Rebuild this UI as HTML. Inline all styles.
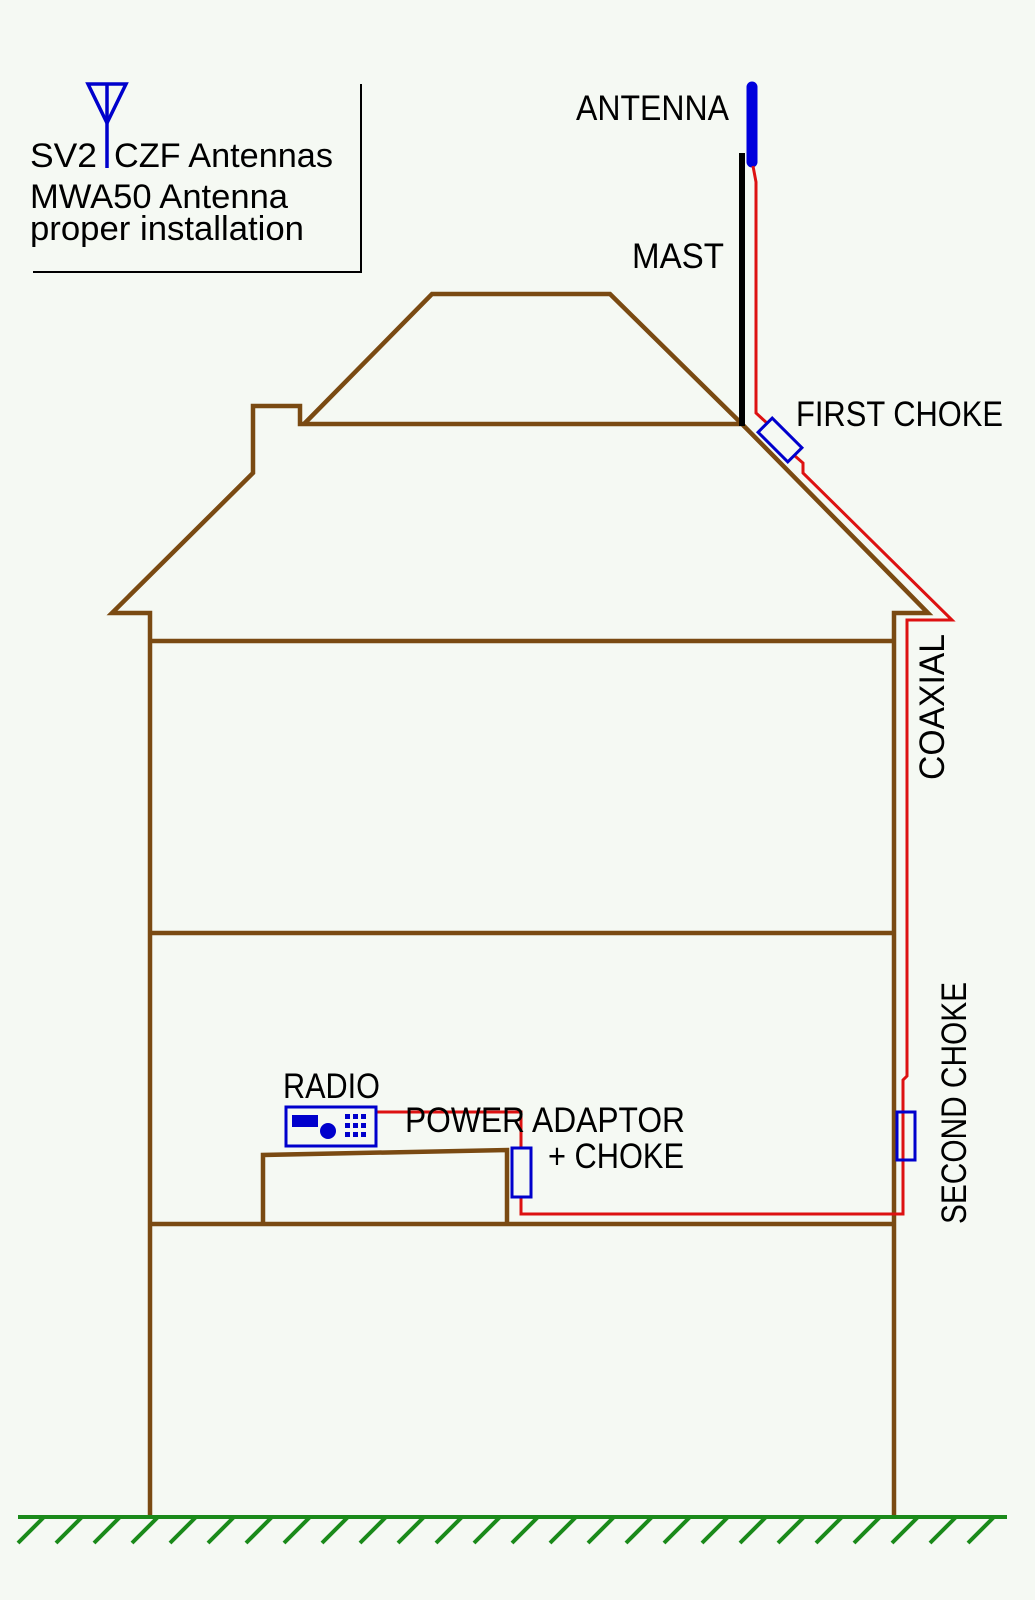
<!DOCTYPE html>
<html><head><meta charset="utf-8"><style>
html,body{margin:0;padding:0;background:#f5f9f3;}
svg{display:block}
text{font-family:"Liberation Sans",sans-serif;fill:#000;}
</style></head><body>
<svg width="1035" height="1600" viewBox="0 0 1035 1600" xmlns="http://www.w3.org/2000/svg">
<rect width="1035" height="1600" fill="#f5f9f3"/>
<!-- title box -->
<polyline points="33,272 361,272 361,84" fill="none" stroke="#000" stroke-width="2"/>
<polygon points="88,84 126,84 107,123" fill="none" stroke="#0000cc" stroke-width="3.5"/>
<line x1="107" y1="84" x2="107" y2="168" stroke="#0000cc" stroke-width="3.5"/>
<g font-size="34">
<text x="30" y="167" textLength="67" lengthAdjust="spacingAndGlyphs">SV2</text>
<text x="114" y="167" textLength="219" lengthAdjust="spacingAndGlyphs">CZF Antennas</text>
<text x="30" y="208" textLength="258" lengthAdjust="spacingAndGlyphs">MWA50 Antenna</text>
<text x="30" y="240" textLength="274" lengthAdjust="spacingAndGlyphs">proper installation</text>
</g>
<!-- house -->
<g fill="none" stroke="#7a4a12" stroke-width="4.5" stroke-linejoin="miter">
<polyline points="150,1517 150,613 112,613 253,473 253,406 300,406 300,424 742,424 928,613 894,613 894,1517"/>
<polyline points="304,424 432,294 610,294 742,424"/>
<line x1="150" y1="641" x2="894" y2="641"/>
<line x1="150" y1="933" x2="894" y2="933"/>
<line x1="150" y1="1224" x2="894" y2="1224"/>
<polyline points="263,1224 263,1155 507,1150 507,1224"/>
</g>
<!-- ground -->
<g stroke="#1a8a1a" stroke-width="4">
<line x1="18" y1="1517" x2="1007" y2="1517"/>
<path d="M44,1517 L18,1543 M82,1517 L56,1543 M120,1517 L94,1543 M158,1517 L132,1543 M196,1517 L170,1543 M234,1517 L208,1543 M272,1517 L246,1543 M310,1517 L284,1543 M348,1517 L322,1543 M386,1517 L360,1543 M424,1517 L398,1543 M462,1517 L436,1543 M500,1517 L474,1543 M538,1517 L512,1543 M576,1517 L550,1543 M614,1517 L588,1543 M652,1517 L626,1543 M690,1517 L664,1543 M728,1517 L702,1543 M766,1517 L740,1543 M804,1517 L778,1543 M842,1517 L816,1543 M880,1517 L854,1543 M918,1517 L892,1543 M956,1517 L930,1543 M994,1517 L968,1543"/>
</g>
<!-- mast & antenna -->
<line x1="742" y1="153" x2="742" y2="426" stroke="#000" stroke-width="6"/>
<line x1="752" y1="87" x2="752" y2="162" stroke="#0000dd" stroke-width="11" stroke-linecap="round"/>
<!-- coax -->
<g fill="none" stroke="#dd1111" stroke-width="3">
<polyline points="753,166 756,182 756,413 768,424"/>
<polyline points="795,456 803,463 803,473 952,620 907,620 907,1076 903,1080 903,1214 521,1214 521,1197"/>
<polyline points="376,1112 521,1112 521,1148"/>
</g>
<!-- chokes -->
<g fill="none" stroke="#0000cc" stroke-width="3">
<rect x="-21" y="-10" width="42" height="20" transform="translate(780,440) rotate(45)"/>
<rect x="897" y="1112" width="18" height="48"/>
<rect x="512" y="1148" width="19" height="49"/>
</g>
<!-- radio -->
<rect x="286" y="1107" width="90" height="39" fill="none" stroke="#0000cc" stroke-width="3"/>
<rect x="292" y="1115" width="26" height="12" fill="#0000cc"/>
<circle cx="328" cy="1131" r="8" fill="#0000cc"/>
<g fill="#0000cc">
<rect x="345" y="1114" width="5" height="5"/><rect x="353" y="1114" width="5" height="5"/><rect x="361" y="1114" width="5" height="5"/>
<rect x="345" y="1123" width="5" height="5"/><rect x="353" y="1123" width="5" height="5"/><rect x="361" y="1123" width="5" height="5"/>
<rect x="345" y="1132" width="5" height="5"/><rect x="353" y="1132" width="5" height="5"/><rect x="361" y="1132" width="5" height="5"/>
</g>
<!-- labels -->
<g font-size="35">
<text x="576" y="120" textLength="153" lengthAdjust="spacingAndGlyphs">ANTENNA</text>
<text x="632" y="268" textLength="92" lengthAdjust="spacingAndGlyphs">MAST</text>
<text x="796" y="426" textLength="207" lengthAdjust="spacingAndGlyphs">FIRST CHOKE</text>
<text x="283" y="1098" textLength="97" lengthAdjust="spacingAndGlyphs">RADIO</text>
<text x="405" y="1132" textLength="280" lengthAdjust="spacingAndGlyphs">POWER ADAPTOR</text>
<text x="548" y="1168" textLength="136" lengthAdjust="spacingAndGlyphs">+ CHOKE</text>
<text transform="translate(944,780) rotate(-90)" textLength="146" lengthAdjust="spacingAndGlyphs">COAXIAL</text>
<text transform="translate(966,1224) rotate(-90)" textLength="242" lengthAdjust="spacingAndGlyphs">SECOND CHOKE</text>
</g>
</svg>
</body></html>
